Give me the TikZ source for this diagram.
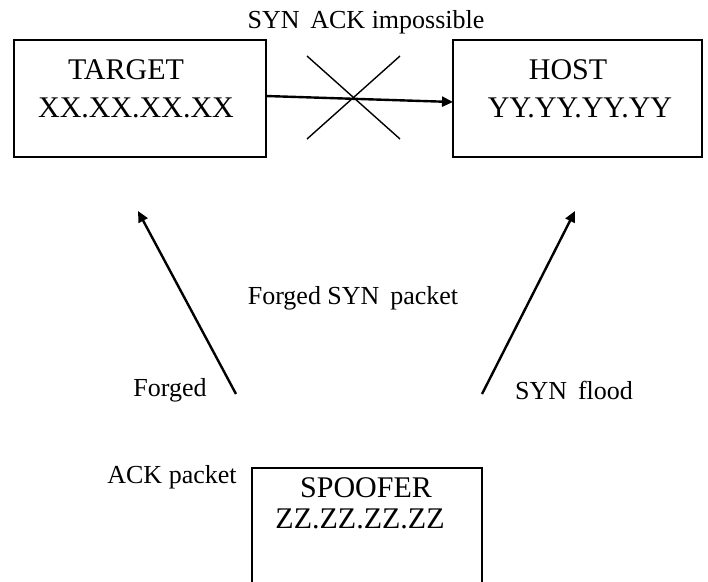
\documentclass[tikz,border=0pt]{standalone}
\usepackage{fontspec}
\setmainfont{Liberation Serif}
\usetikzlibrary{arrows.meta}
\begin{document}
\begin{tikzpicture}[x=1pt,y=-1pt,
  box/.style={draw,line width=2pt,inner sep=0pt},
  big/.style={font=\fontsize{30}{34}\selectfont,inner sep=0pt},
  small/.style={font=\fontsize{26}{30}\selectfont,inner sep=0pt},
  arr/.style={line width=2.4pt,-{Triangle[length=11pt,width=10pt]}},
  cross/.style={line width=1.4pt}]
\useasboundingbox (0,0) rectangle (708,581);
\clip (0,0) rectangle (708,581);
% boxes
\node[box,minimum width=252pt,minimum height=117pt] (target) at (140,98.5) {};
\node[box,minimum width=249pt,minimum height=117pt] (host) at (577.5,98.5) {};
\draw[line width=2pt] (252,600) -- (252,468) -- (482,468) -- (482,600);
\coordinate (spoofer) at (367,520);
% box texts
\node[big] (targetname) at (126,70) {TARGET};
\node[big] (targetip) at (136,108) {XX.XX.XX.XX};
\node[big] (hostname) at (568,70) {HOST};
\node[big] (hostip) at (580,108) {YY.YY.YY.YY};
\node[big] (spoofername) at (366,488) {SPOOFER};
\node[big] (spooferip) at (360,519) {ZZ.ZZ.ZZ.ZZ};
% labels
\node[small] (synack) at (366,22) {SYN\, ACK impossible};
\node[small] (forgedsyn) at (353,298) {Forged SYN\, packet};
\node[small] (forged) at (170,390) {Forged};
\node[small,anchor=west] (synflood) at (515,390) {SYN\, flood};
\node[small] (ackpacket) at (172,477) {ACK packet};
% connectors
\coordinate (a1) at (266,96);
\coordinate (a2) at (453,102);
\draw[arr] (a1) -- (a2);
\coordinate (x1) at (307,56);
\coordinate (x2) at (400,139);
\coordinate (x3) at (400,56);
\coordinate (x4) at (307,139);
\draw[cross] (x1) -- (x2);
\draw[cross] (x3) -- (x4);
\coordinate (l1) at (236,394);
\coordinate (l2) at (138,211);
\draw[arr] (l1) -- (l2);
\coordinate (r1) at (482,394);
\coordinate (r2) at (575,211);
\draw[arr] (r1) -- (r2);
\end{tikzpicture}
\end{document}
